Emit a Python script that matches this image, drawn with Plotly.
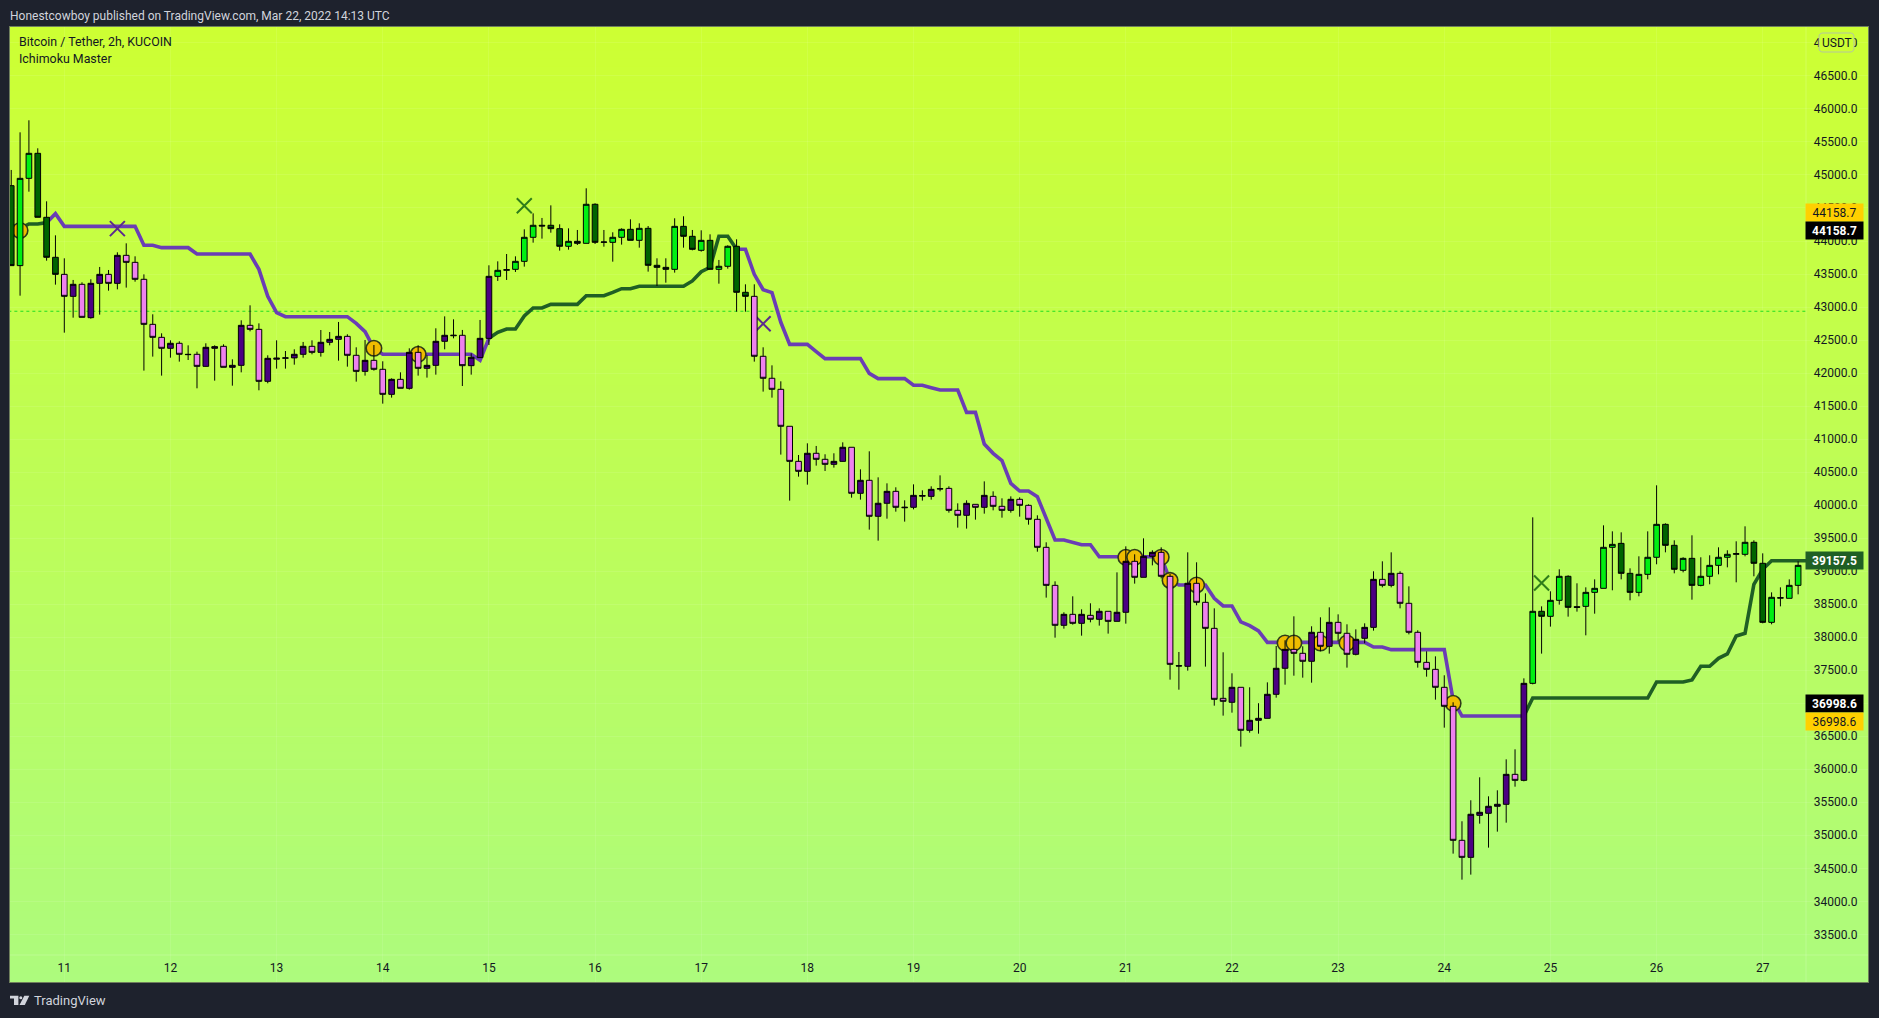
import plotly.graph_objects as go

# ---------- data (2h BTC/USDT candles) ----------
opens = [
44838,43627,44949,45328,44359,43753,43495,43162,43344,42839,
43359,43495,43359,43783,43677,43420,42738,42541,42375,42451,
42284,42284,42102,42375,42405,42087,42117,42723,42662,41875,
42210,42225,42230,42284,42405,42314,42466,42511,42556,42269,
42026,42193,42057,41678,41905,41769,42314,42072,42117,42481,
42565,42572,42112,42234,42526,43465,43556,43571,43692,44056,
44238,44238,44187,43920,43995,43965,44556,43980,43980,44056,
44177,44010,44192,43632,43601,43571,44222,44071,43859,44010,
43571,43617,43920,43223,43162,42254,41921,41754,41194,40663,
40512,40785,40694,40618,40663,40876,40179,40376,39831,40028,
40209,39960,39967,40135,40133,40244,40254,39921,39846,40012,
39967,40133,39982,39921,40088,39997,39785,39361,38785,38180,
38346,38210,38331,38271,38392,38240,38377,39149,38907,39225,
39285,38922,37569,37559,38816,38528,38134,37074,37014,37241,
36590,36741,36771,37135,37529,37816,37756,37635,38074,37862,
38225,38059,37741,37983,38149,38876,38785,38967,38513,38074,
37619,37513,37241,36953,34924,34666,35302,35333,35439,35469,
35923,35832,37301,38392,38316,38558,38922,38462,38467,38679,
38740,39361,39421,38967,38679,38952,39210,39709,39391,39013,
39194,38785,38922,39088,39210,39255,39255,39437,39119,38225,
38590,38589,38785]
highs = [
45076,45646,45828,45404,44601,44086,43738,43410,43374,43420,
43607,43561,43829,43965,43768,43495,42890,42602,42496,42481,
42420,42324,42451,42420,42435,42208,42799,43026,42753,42269,
42496,42334,42360,42471,42496,42652,42622,42774,42587,42390,
42501,42425,42178,41920,42011,42375,42420,42269,42678,42859,
42814,42653,42299,42804,43632,43692,43803,43768,44177,44419,
44349,44540,44253,44192,44167,44798,44571,44167,44132,44192,
44328,44268,44227,43738,43738,44344,44374,44167,44162,44101,
43713,43935,44026,43344,43344,42390,42117,41875,41194,40759,
40936,40896,40770,40785,40951,40876,40542,40815,40421,40330,
40270,40073,40315,40224,40285,40451,40285,40027,40073,40012,
40360,40209,40103,40133,40118,40012,39846,39437,38846,38377,
38619,38422,38513,38437,38392,38982,39376,39255,39497,39316,
39361,38957,37776,39285,39134,38664,38437,37771,37453,37241,
37241,37000,37316,37867,37953,38316,37862,38165,38301,38452,
38346,38195,38119,38210,38998,39149,39285,38998,38770,38104,
37786,37710,37423,37014,35212,35530,35878,35590,35681,36150,
36302,37377,39815,38467,38695,39028,38937,38816,38755,38876,
39694,39603,39588,39043,39225,39603,40300,39724,39467,39210,
39543,39210,39240,39361,39316,39452,39679,39467,39270,38679,
38755,38876,39149]
lows = [
43627,43172,44747,44359,43702,43339,42612,42839,42844,42824,
42885,43248,43268,43294,43384,42037,42249,41961,42233,42173,
42198,41769,42097,41885,42087,41809,42011,42632,41739,41845,
42067,42067,42127,42233,42284,42249,42420,42188,42097,41870,
41961,42037,41537,41628,41769,41749,41961,41931,41976,42360,
42526,41804,41976,42234,42425,43395,43410,43531,43612,43975,
44036,44126,43854,43869,43940,43965,43955,43914,43687,43945,
44010,43899,43536,43319,43369,43521,43899,43859,43839,43571,
43354,43581,42930,42930,42173,41719,41628,40765,40068,40431,
40310,40598,40517,40568,40658,40113,40083,39629,39462,39795,
39901,39750,39936,40068,40083,40209,39886,39659,39644,39780,
39871,39921,39810,39886,39825,39704,39295,38599,37993,38129,
38190,38023,38225,38175,38054,38240,38205,38811,38907,39088,
38891,37357,37205,37493,38483,37554,36963,36812,36857,36342,
36554,36539,36771,37084,37281,37417,37387,37311,37786,37751,
37937,37539,37725,37907,38099,38755,38755,38437,38043,37539,
37402,37054,36630,34722,34328,34404,35176,34813,35055,35191,
35736,35817,37286,37751,38160,38493,38311,38387,38028,38356,
38740,38710,38876,38558,38619,38876,39104,39285,38967,38982,
38568,38770,38801,38952,39058,38831,39225,38922,38210,38195,
38467,38589,38649]
closes = [
43627,44949,45328,44359,43753,43495,43162,43344,42844,43359,
43495,43359,43783,43677,43420,42738,42541,42375,42451,42284,
42280,42102,42390,42400,42087,42117,42723,42662,41875,42223,
42225,42230,42284,42405,42314,42466,42511,42556,42269,42026,
42193,42057,41678,41905,41769,42314,42072,42117,42481,42572,
42572,42112,42239,42526,43465,43556,43566,43692,44056,44238,
44228,44187,43920,43995,43965,44556,43980,43985,44056,44177,
44010,44192,43632,43601,43571,44222,44071,43874,44010,43571,
43617,43920,43223,43162,42254,41921,41754,41194,40663,40512,
40785,40694,40618,40663,40876,40179,40376,39831,40028,40209,
39967,39967,40148,40145,40239,40249,39921,39846,40027,39967,
40148,39982,39921,40088,39997,39785,39361,38785,38180,38346,
38210,38346,38271,38392,38240,38377,39149,38907,39225,39285,
38922,37589,37564,38816,38528,38134,37059,37029,37241,36590,
36741,36771,37135,37529,37816,37756,37635,38074,37862,38225,
38059,37741,37968,38149,38876,38785,38967,38513,38074,37619,
37513,37241,36953,34924,34666,35318,35348,35439,35469,35923,
35832,37301,38392,38316,38558,38922,38452,38452,38679,38740,
39361,39406,38967,38679,38952,39210,39709,39391,39028,39194,
38785,38922,39088,39210,39255,39265,39437,39119,38225,38604,
38599,38785,39088]
ichimoku_line = [
44120,44190,44258,44258,44278,44414,44222,44222,44222,44222,
44222,44222,44222,44222,44222,43935,43935,43899,43899,43899,
43899,43803,43803,43803,43803,43803,43803,43803,43571,43162,
42915,42854,42854,42854,42854,42854,42854,42854,42854,42753,
42627,42375,42284,42284,42284,42284,42284,42284,42284,42284,
42284,42284,42284,42193,42526,42617,42668,42668,42864,42986,
42986,43041,43041,43041,43041,43172,43172,43172,43223,43278,
43278,43314,43314,43314,43314,43314,43314,43395,43536,43601,
44071,44071,43874,43874,43495,43263,43218,42769,42435,42435,
42435,42324,42218,42218,42218,42218,42218,41996,41916,41916,
41916,41916,41815,41815,41779,41743,41743,41743,41405,41405,
40925,40784,40673,40330,40214,40214,40128,39800,39472,39472,
39431,39401,39401,39219,39219,39219,39219,39219,39219,39219,
39219,38861,38791,38791,38791,38791,38589,38473,38473,38231,
38175,38094,37922,37922,37922,37922,37922,37922,37922,37922,
37922,37922,37922,37922,37851,37851,37811,37811,37811,37811,
37811,37811,37811,37049,36806,36806,36806,36806,36806,36806,
36806,36806,37079,37079,37079,37079,37079,37079,37079,37079,
37079,37079,37079,37079,37079,37079,37322,37322,37322,37322,
37352,37559,37559,37680,37746,38018,38059,38801,39028,39157.5,
39157.5,39157.5,39157.5,39157.5]

# bars painted with the purple pair of colours; the rest use the green pair
purple_candle_spans = [(6, 54), (84, 171)]
# line segments drawn purple; the rest are green
purple_line_spans = [(4, 54), (82, 171)]

circle_bars = [1, 41, 46, 126, 127, 130, 131, 134, 144, 145, 148, 151, 163]
circle_prices = [44158.7, 42375, 42284, 39210, 39210, 39210, 38861, 38791,
                 37912, 37912, 37912, 37912, 36998.6]
cross_purple_bars = [12, 85]
cross_purple_prices = [44187, 42748]
cross_green_bars = [58, 173]
cross_green_prices = [44535, 38821]

dotted_level = 42936
day_labels = ["11","12","13","14","15","16","17","18","19","20","21","22","23","24","25","26","27"]
day_first_bars = [6,18,30,42,54,66,78,90,102,114,126,138,150,162,174,186,198]
price_ticks = [33500 + 500*k for k in range(28)]

# ---------- figure frame ----------
W, H = 1879, 1018
L, R, T, B = 10, 11, 27, 36
x_range = [-0.138, 209.9]
y_range = [32778, 47241]

def px(x): return (x - L) / (W - L - R)
def py(y): return 1 - (y - T) / (H - T - B)

bars = list(range(len(opens)))
in_spans = lambda i, spans: any(a <= i <= b for a, b in spans)
purple_idx = [i for i in bars if in_spans(i, purple_candle_spans)]
green_idx = [i for i in bars if not in_spans(i, purple_candle_spans)]

fig = go.Figure()

# dotted level
fig.add_trace(go.Scatter(x=[bars[0] - 1, bars[-1] + 1], y=[dotted_level, dotted_level], mode="lines",
                         line=dict(color="#22dd22", width=1, dash="dot"), hoverinfo="skip"))

# indicator line in two colours
line_x = list(range(len(ichimoku_line)))
fig.add_trace(go.Scatter(x=line_x,
    y=[v if not in_spans(i, purple_line_spans) or i in (4, 54, 82, 171) else None for i, v in enumerate(ichimoku_line)],
    mode="lines", connectgaps=False, line=dict(color="#1F5F24", width=3.6), hoverinfo="skip"))
fig.add_trace(go.Scatter(x=line_x,
    y=[v if in_spans(i, purple_line_spans) else None for i, v in enumerate(ichimoku_line)],
    mode="lines", connectgaps=False, line=dict(color="#6A3DB5", width=3.6), hoverinfo="skip"))

# signals
fig.add_trace(go.Scatter(x=circle_bars, y=circle_prices, mode="markers",
    marker=dict(symbol="circle", size=15.5, color="#EFBC00", line=dict(color="#2E3A18", width=1.6))))
fig.add_trace(go.Scatter(x=cross_purple_bars, y=cross_purple_prices, mode="markers",
    marker=dict(symbol="x-thin", size=15, line=dict(color="#5B2A8E", width=2))))
fig.add_trace(go.Scatter(x=cross_green_bars, y=cross_green_prices, mode="markers",
    marker=dict(symbol="x-thin", size=15, line=dict(color="#2E7D1A", width=2))))

# candles on an overlaid pair of axes so they sit above the line
def candles(idx, up, down):
    return go.Candlestick(x=idx, open=[opens[i] for i in idx], high=[highs[i] for i in idx],
        low=[lows[i] for i in idx], close=[closes[i] for i in idx], xaxis="x2", yaxis="y2",
        whiskerwidth=0,
        increasing=dict(fillcolor=up, line=dict(color="#000000", width=1)),
        decreasing=dict(fillcolor=down, line=dict(color="#000000", width=1)))
fig.add_trace(candles(green_idx, "#00F012", "#006400"))
fig.add_trace(candles(purple_idx, "#4B0082", "#EE82EE"))

# gradient background: each band reaches the bottom, so no seams show
shapes = []
top_c, bot_c = (205, 255, 51), (173, 251, 125)
n = 120
for k in range(n):
    t = k / (n - 1)
    c = tuple(round(a + (b - a) * t) for a, b in zip(top_c, bot_c))
    shapes.append(dict(type="rect", xref="paper", yref="paper", x0=0, x1=1,
                       y0=0, y1=1 - k / n, layer="below",
                       line=dict(width=0), fillcolor="rgb(%d,%d,%d)" % c))
# pane separators
shapes.append(dict(type="line", xref="paper", yref="paper", x0=px(1806), x1=px(1806), y0=0, y1=1,
                   line=dict(color="rgba(255,255,255,0.18)", width=1), layer="below"))
shapes.append(dict(type="line", xref="paper", yref="paper", x0=0, x1=1, y0=py(955), y1=py(955),
                   line=dict(color="rgba(255,255,255,0.18)", width=1), layer="below"))
# logo mark
def poly(points):
    d = "M" + " L".join("%.5f,%.5f" % (px(a), py(b)) for a, b in points) + " Z"
    return dict(type="path", xref="paper", yref="paper", path=d, fillcolor="#D1D4DC", line=dict(width=0))
shapes.append(poly([(10, 995.7), (18.4, 995.7), (18.4, 1005), (14, 1005), (14, 998.5), (10, 998.5)]))
shapes.append(poly([(24.3, 995.7), (29.3, 995.7), (24.8, 1005), (19.5, 1005)]))
shapes.append(dict(type="circle", xref="paper", yref="paper", x0=px(19.3), x1=px(22.3), y0=py(999.2), y1=py(996.2),
                   fillcolor="#D1D4DC", line=dict(width=0)))
# rounded currency box
def rounded(x0, y0, x1, y1, r):
    pts = ["M%.5f,%.5f" % (px(x0 + r), py(y0)), "L%.5f,%.5f" % (px(x1 - r), py(y0)),
           "Q%.5f,%.5f %.5f,%.5f" % (px(x1), py(y0), px(x1), py(y0 + r)), "L%.5f,%.5f" % (px(x1), py(y1 - r)),
           "Q%.5f,%.5f %.5f,%.5f" % (px(x1), py(y1), px(x1 - r), py(y1)), "L%.5f,%.5f" % (px(x0 + r), py(y1)),
           "Q%.5f,%.5f %.5f,%.5f" % (px(x0), py(y1), px(x0), py(y1 - r)), "L%.5f,%.5f" % (px(x0), py(y0 + r)),
           "Q%.5f,%.5f %.5f,%.5f" % (px(x0), py(y0), px(x0 + r), py(y0)), "Z"]
    return " ".join(pts)
shapes.append(dict(type="path", xref="paper", yref="paper", path=rounded(1819, 33, 1854, 52, 4),
                   fillcolor="#CDFF33", line=dict(color="#B4C6A0", width=1)))

font = "Roboto, sans-serif"
def text(x, y, s, size=12, color="#131722", **kw):
    return dict(xref="paper", yref="paper", x=px(x), y=py(y), text=s, showarrow=False,
                xanchor="left", yanchor="middle", font=dict(family=font, size=size, color=color), **kw)

def price_tag(value, shift, bg, fg, bold=False):
    s = "%.1f" % value
    return dict(xref="paper", yref="y", x=px(1805), y=value, yshift=shift, text="<b>%s</b>" % s if bold else s,
                showarrow=False, xanchor="left", yanchor="middle", width=57, height=17, align="center",
                bgcolor=bg, borderpad=0, font=dict(family=font, size=12, color=fg))

annotations = [
    text(8, 15.5, "Honestcowboy published on TradingView.com, Mar 22, 2022 14:13 UTC", 12, "#D1D4DC"),
    text(16.5, 42, "Bitcoin / Tether, 2h, KUCOIN", 12.4),
    text(16.5, 59, "Ichimoku Master", 12.4),
    text(32, 1000.5, "TradingView", 13, "#D1D4DC"),
    price_tag(44158.7, 18, "#FFD000", "#131722"),
    price_tag(44158.7, 0, "#000000", "#FFFFFF", True),
    price_tag(39157.5, 0, "#1F5F24", "#FFFFFF", True),
    price_tag(36998.6, 0, "#000000", "#FFFFFF", True),
    price_tag(36998.6, -18, "#FFD000", "#131722"),
    dict(xref="paper", yref="paper", x=px(1836.5), y=py(42.5), text="USDT", showarrow=False,
         xanchor="center", yanchor="middle", font=dict(family=font, size=12, color="#131722")),
]

grid = "rgba(255,255,255,0.09)"
fig.update_layout(
    width=W, height=H, showlegend=False, paper_bgcolor="#1E222D", plot_bgcolor="rgba(0,0,0,0)",
    margin=dict(l=L, r=R, t=T, b=B, pad=0), boxgap=0.2, boxgroupgap=0.2,
    shapes=shapes, annotations=annotations, hovermode=False,
    xaxis=dict(range=x_range, tickmode="array", tickvals=day_first_bars, ticktext=day_labels,
               ticklabelposition="inside", ticks="", ticklabelstandoff=7, showgrid=True, gridcolor=grid,
               tickfont=dict(family=font, size=12, color="#131722"), zeroline=False,
               showline=True, mirror=True, linecolor="#6F7F5C", linewidth=1),
    yaxis=dict(range=y_range, side="right", tickmode="array", tickvals=price_ticks, tickformat=".1f",
               ticklabelposition="inside", ticks="", ticklabelstandoff=10, showgrid=True, gridcolor=grid,
               tickfont=dict(family=font, size=12, color="#131722"), zeroline=False,
               showline=True, mirror=True, linecolor="#6F7F5C", linewidth=1),
    xaxis2=dict(range=x_range, overlaying="x", visible=False, rangeslider=dict(visible=False)),
    yaxis2=dict(range=y_range, overlaying="y", visible=False),
)

fig.write_html("out.html", config={"displayModeBar": False},
               post_script="document.body.style.margin='0';document.body.style.background='#1E222D';")
